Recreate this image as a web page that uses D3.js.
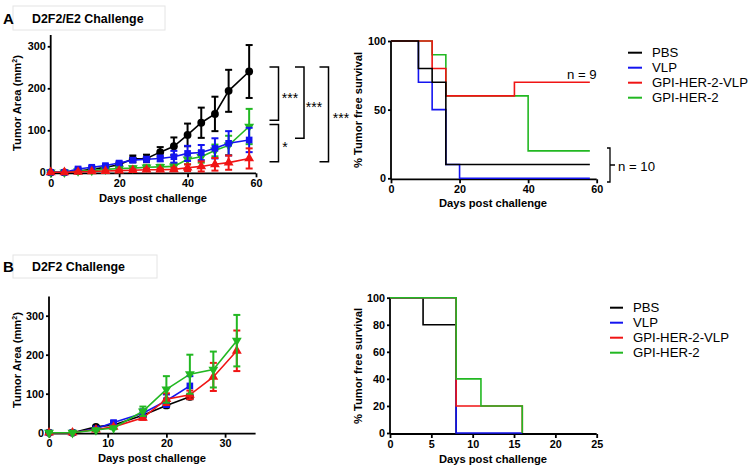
<!DOCTYPE html>
<html><head><meta charset="utf-8">
<script src="https://cdn.jsdelivr.net/npm/d3@7"></script>
<style>
body{margin:0;background:#fff;}
svg{font-family:"Liberation Sans",Arial,sans-serif;}
.axis path,.axis line{stroke:#000;stroke-width:1.8;}
.axis text{font-weight:bold;font-size:10.8px;fill:#000;}
</style></head>
<body>
<svg id="c" width="750" height="469"></svg>
<script>
// ---------- Data ----------
const groups = ["PBS","VLP","GPI-HER-2-VLP","GPI-HER-2"];
const colors = ["#000000","#1414f0","#f01414","#22b822"];

// Panel A growth (D2F2/E2)
const daysA = [0,4,8,12,16,20,24,28,32,36,40,44,48,52,58];
const pbsA = [0,0,3,7,12,18,32,33,48,62,89,118,139,194,240];
const pbsAErr = [0,0,2,3,4,5,8,9,12,21,27,36,41,50,63];
const vlpA = [0,0,8,12,16,22,29,31,33,37,45,47,57,69,77];
const vlpAErr = [0,0,3,3,3,4,5,6,7,14,18,18,24,29,29];
const herVlpA = [0,0,1,2,3,4,5,6,6,7,11,14,19,23,33];
const herVlpAErr = [0,0,1,1,1,2,2,3,3,4,8,12,15,17,24];
const herA = [0,0,3,4,7,9,10,12,13,14,31,37,52,64,109];
const herAErr = [0,0,1,2,3,4,4,5,5,8,12,14,14,23,42];

// Panel B growth (D2F2)
const daysB = [0,4,8,11,16,20,24,28,32];
const pbsB = [0,0,15,20,45,70,92];
const pbsBErr = [0,0,3,3,4,5,6];
const vlpB = [0,0,10,26,50,82,120];
const vlpBErr = [0,0,2,4,10,16,25];
const herVlpB = [0,0,8,15,38,86,97,143,210];
const herVlpBErr = [0,0,2,3,5,15,11,36,52];
const herB = [0,0,7,12,55,111,150,162,236];
const herBErr = [0,0,2,3,12,34,50,46,66];

// Survival A
const pbsSurvAT = [0,8,12,16,58], pbsSurvA = [100,80,70,10,10];
const vlpSurvAT = [0,8,12,16,20,58], vlpSurvA = [100,70,50,10,0,0];
const herVlpSurvAT = [0,12,16,36,58], herVlpSurvA = [100,80,60,70,70];
const herSurvAT = [0,12,16,40,58], herSurvA = [100,90,60,20,20];

// Survival B
const pbsSurvBT = [0,4,8], pbsSurvB = [100,80,0];
const vlpSurvBT = [0,8,16], vlpSurvB = [100,0,0];
const herVlpSurvBT = [0,8,16], herVlpSurvB = [100,20,0];
const herSurvBT = [0,8,11,16], herSurvB = [100,40,20,0];

// Significance brackets (tumor area units): [top, bottom, label]
const bracketsA = [[251,124,"***"],[114,25,"*"],[251,81,"***"],[251,25,"***"]];

const growthTicksA = [0,100,200,300], growthXTicksA = [0,20,40,60];
const growthTicksB = [0,100,200,300], growthXTicksB = [0,10,20,30];
const survTicksA = [0,50,100], survXTicksA = [0,20,40,60];
const survTicksB = [0,20,40,60,80,100], survXTicksB = [0,5,10,15,20,25];

// ---------- Drawing ----------
const svg = d3.select("#c");

function panelTitle(letter, title, x0, y0, w, h){
  svg.append("rect").attr("x",x0).attr("y",y0).attr("width",w).attr("height",h)
    .attr("fill","#fff").attr("stroke","#e4e4e4").attr("stroke-width",1);
  svg.append("text").attr("x",3).attr("y",y0+h/2+5.5).attr("font-size",15).attr("font-weight","bold").text(letter);
  svg.append("text").attr("x",x0+19).attr("y",y0+h/2+4.5).attr("font-size",12.4).attr("font-weight","bold").text(title);
}

function axes(x, y, xt, yt, yAxisTop){
  const g = svg.append("g");
  const x0 = x.range()[0], y0 = y(0);
  const ax = g.append("g").attr("class","axis").attr("transform",`translate(0,${y0+1})`)
    .call(d3.axisBottom(x).tickValues(xt).tickSizeOuter(0).tickSize(4).tickPadding(2).tickFormat(d3.format("d")));
  const ay = g.append("g").attr("class","axis").attr("transform",`translate(${x0},0)`)
    .call(d3.axisLeft(y).tickValues(yt).tickSizeOuter(0).tickSize(3).tickPadding(2).tickFormat(d3.format("d")));
  ax.select(".domain").attr("d",`M${x.range()[0]},0H${x.range()[1]}`);
  ay.select(".domain").attr("d",`M0,${y0+1}V${yAxisTop}`);
  return g;
}

function xTitle(cx, cy){
  svg.append("text").attr("x",cx).attr("y",cy).attr("text-anchor","middle")
    .attr("font-size",11.2).attr("font-weight","bold").text("Days post challenge");
}
function yTitleArea(cx, cy){
  const t = svg.append("text").attr("transform",`translate(${cx},${cy}) rotate(-90)`)
    .attr("text-anchor","middle").attr("font-size",11.2).attr("font-weight","bold");
  t.append("tspan").text("Tumor Area (mm");
  t.append("tspan").attr("font-size",7).attr("dy",-4).text("2");
  t.append("tspan").attr("dy",4).text(")");
}
function yTitleSurv(cx, cy){
  svg.append("text").attr("transform",`translate(${cx},${cy}) rotate(-90)`)
    .attr("text-anchor","middle").attr("font-size",11.2).attr("font-weight","bold").text("% Tumor free survival");
}

const symbols = [d3.symbolCircle, d3.symbolSquare, d3.symbolTriangle, d3.symbolTriangle];
const symSizes = [48, 44, 42, 42];

function growth(x, y, days, vals, errs, gi){
  const c = colors[gi];
  const g = svg.append("g");
  const pts = vals.map((v,i)=>({d:days[i], v, e:errs[i]}));
  pts.forEach(p=>{
    if(p.e<=0) return;
    const xx = x(p.d);
    g.append("line").attr("x1",xx).attr("x2",xx).attr("y1",y(p.v-p.e)).attr("y2",y(p.v+p.e))
      .attr("stroke",c).attr("stroke-width",2);
    [p.v-p.e,p.v+p.e].forEach(v=>g.append("line").attr("x1",xx-3.5).attr("x2",xx+3.5)
      .attr("y1",y(v)).attr("y2",y(v)).attr("stroke",c).attr("stroke-width",2));
  });
  g.append("path").datum(pts).attr("fill","none").attr("stroke",c).attr("stroke-width",1.6)
    .attr("d",d3.line().x(p=>x(p.d)).y(p=>y(p.v)));
  const sym = d3.symbol().type(symbols[gi]).size(symSizes[gi]);
  pts.forEach(p=>{
    g.append("path").attr("d",sym()).attr("fill",c)
      .attr("transform",`translate(${x(p.d)},${y(p.v)})${gi===3?" rotate(180)":""}`);
  });
}

function survival(x, y, t, v, gi){
  const pts = t.map((d,i)=>({t:d, v:v[i]}));
  svg.append("path").datum(pts).attr("fill","none").attr("stroke",colors[gi]).attr("stroke-width",1.6)
    .attr("d",d3.line().curve(d3.curveStepAfter).x(p=>x(p.t)).y(p=>y(p.v)));
}

function legend(x0, y0, lineLen){
  groups.forEach((g,i)=>{
    const yy = y0 + i*15;
    svg.append("line").attr("x1",x0).attr("x2",x0+lineLen).attr("y1",yy).attr("y2",yy)
      .attr("stroke",colors[i]).attr("stroke-width",2);
    svg.append("text").attr("x",x0+lineLen+10).attr("y",yy+4.6).attr("font-size",13.2).text(g);
  });
}

// ===== Panel A: growth =====
panelTitle("A","D2F2/E2 Challenge",13,6,152,24);
{
  const x = d3.scaleLinear([0,60],[50.7,256]);
  const y = d3.scaleLinear([0,300],[172.3,46.3]);
  axes(x,y,growthXTicksA,growthTicksA,35);
  xTitle(153,202);
  yTitleArea(21,103);
  growth(x,y,daysA,pbsA,pbsAErr,0);
  growth(x,y,daysA,herA,herAErr,3);
  growth(x,y,daysA,vlpA,vlpAErr,1);
  growth(x,y,daysA,herVlpA,herVlpAErr,2);
  const bx = [[269.5,278.5],[269.5,278.5],[295,304],[319.5,328.5]];
  const lx = [290,285,314,341];
  bracketsA.forEach((b,i)=>{
    const [a,c] = bx[i];
    svg.append("path").attr("fill","none").attr("stroke","#000").attr("stroke-width",1.5)
      .attr("d",`M${a},${y(b[0])}H${c}V${y(b[1])}H${a}`);
    svg.append("text").attr("x",lx[i]).attr("y",(y(b[0])+y(b[1]))/2+9).attr("text-anchor","middle")
      .attr("font-size",14).text(b[2]);
  });
}

// ===== Panel A: survival =====
{
  const x = d3.scaleLinear([0,60],[391,596.7]);
  const y = d3.scaleLinear([0,100],[178.3,41]);
  axes(x,y,survXTicksA,survTicksA,41);
  xTitle(493,207);
  yTitleSurv(362,110);
  survival(x,y,vlpSurvAT,vlpSurvA,1);
  survival(x,y,herSurvAT,herSurvA,3);
  survival(x,y,herVlpSurvAT,herVlpSurvA,2);
  survival(x,y,pbsSurvAT,pbsSurvA,0);
  svg.append("text").attr("x",567).attr("y",78.5).attr("font-size",13.2).text("n = 9");
  svg.append("path").attr("fill","none").attr("stroke","#000").attr("stroke-width",1.3)
    .attr("d",`M607,148H610V182H607M610,165H615`);
  svg.append("text").attr("x",618).attr("y",170.5).attr("font-size",13.2).text("n = 10");
  legend(628,52.7,14);
}

// ===== Panel B: growth =====
panelTitle("B","D2F2 Challenge",13,255,144,23);
{
  const x = d3.scaleLinear([0,35.2],[49,255.6]);
  const y = d3.scaleLinear([0,300],[432.7,315.7]);
  axes(x,y,growthXTicksB,growthTicksB,296.5);
  xTitle(152,462);
  yTitleArea(21,360);
  growth(x,y,daysB,pbsB,pbsBErr,0);
  growth(x,y,daysB,vlpB,vlpBErr,1);
  growth(x,y,daysB,herVlpB,herVlpBErr,2);
  growth(x,y,daysB,herB,herBErr,3);
}

// ===== Panel B: survival =====
{
  const x = d3.scaleLinear([0,25],[390,596.7]);
  const y = d3.scaleLinear([0,100],[433,297.7]);
  axes(x,y,survXTicksB,survTicksB,297.7);
  xTitle(493,463);
  yTitleSurv(362,366);
  survival(x,y,pbsSurvBT,pbsSurvB,0);
  survival(x,y,vlpSurvBT,vlpSurvB,1);
  survival(x,y,herVlpSurvBT,herVlpSurvB,2);
  survival(x,y,herSurvBT,herSurvB,3);
  legend(610,307.7,13);
}
</script>
</body></html>
